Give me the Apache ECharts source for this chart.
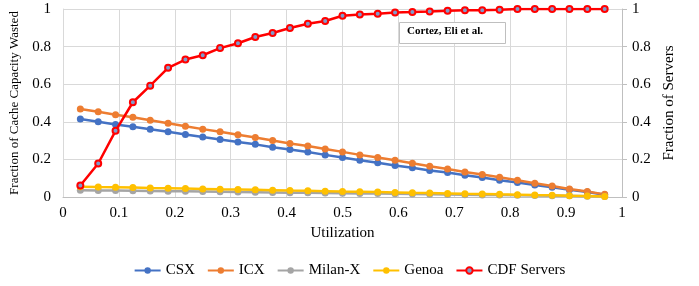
<!DOCTYPE html>
<html>
<head>
<meta charset="utf-8">
<script src="https://cdn.jsdelivr.net/npm/echarts@6/dist/echarts.min.js"></script>
<style>
  html, body { margin: 0; padding: 0; background: #fff; }
  #chart { width: 699px; height: 286px; }
</style>
</head>
<body>
<div id="chart"></div>
<script>
// utilization (bin centres)
var utilization = [0.031, 0.063, 0.094, 0.125, 0.156, 0.188, 0.219, 0.25, 0.281, 0.313,
    0.344, 0.375, 0.406, 0.438, 0.469, 0.5, 0.531, 0.563, 0.594, 0.625,
    0.656, 0.688, 0.719, 0.75, 0.781, 0.813, 0.844, 0.875, 0.906, 0.938, 0.969];

var csx = [0.415, 0.400, 0.386, 0.374, 0.360, 0.347, 0.333, 0.319, 0.306, 0.292,
    0.280, 0.265, 0.253, 0.239, 0.224, 0.210, 0.196, 0.182, 0.168, 0.155, 0.141,
    0.130, 0.116, 0.104, 0.089, 0.077, 0.064, 0.052, 0.039, 0.027, 0.012];
var icx = [0.468, 0.454, 0.438, 0.424, 0.408, 0.392, 0.376, 0.361, 0.347, 0.331,
    0.317, 0.301, 0.285, 0.271, 0.255, 0.240, 0.224, 0.210, 0.196, 0.180, 0.164,
    0.149, 0.133, 0.120, 0.105, 0.089, 0.073, 0.059, 0.043, 0.029, 0.014];
var milanX = [0.036, 0.035, 0.034, 0.033, 0.032, 0.031, 0.030, 0.029, 0.028, 0.026,
    0.025, 0.024, 0.023, 0.022, 0.021, 0.020, 0.019, 0.018, 0.017, 0.016, 0.015,
    0.013, 0.012, 0.011, 0.010, 0.009, 0.008, 0.007, 0.006, 0.004, 0.002];
var genoa = [0.055, 0.053, 0.052, 0.050, 0.048, 0.047, 0.045, 0.043, 0.041, 0.040,
    0.038, 0.036, 0.034, 0.033, 0.031, 0.029, 0.028, 0.026, 0.024, 0.022, 0.021,
    0.019, 0.017, 0.016, 0.014, 0.012, 0.010, 0.009, 0.007, 0.005, 0.003];
var cdfServers = [0.061, 0.178, 0.352, 0.504, 0.592, 0.687, 0.731, 0.754, 0.792, 0.818,
    0.851, 0.872, 0.899, 0.922, 0.936, 0.964, 0.971, 0.975, 0.982, 0.984, 0.987,
    0.991, 0.993, 0.993, 0.996, 1, 1, 1, 1, 1, 1];

var names = ['CSX', 'ICX', 'Milan-X', 'Genoa', 'CDF Servers'];
var colors = ['#4472C4', '#ED7D31', '#A5A5A5', '#FFC000', '#FF0000'];

function pairs(ys) {
    return utilization.map(function (x, i) { return [x, ys[i]]; });
}

var font = '"Liberation Serif", "Times New Roman", serif';

var myChart = echarts.init(document.getElementById('chart'), null, { renderer: 'canvas' });

function lineSeries(idx, ys) {
    return {
        name: names[idx],
        type: 'line',
        data: pairs(ys),
        symbol: 'circle',
        symbolSize: 7,
        lineStyle: { color: colors[idx], width: 2.5 },
        itemStyle: { color: colors[idx] },
        animation: false
    };
}

var cdf = lineSeries(4, cdfServers);
cdf.yAxisIndex = 1;
cdf.symbolSize = 6;
cdf.itemStyle = { color: '#7F9BCB', borderColor: '#FF0000', borderWidth: 2 };
cdf.z = 5;

var option = {
    animation: false,
    textStyle: { fontFamily: font },
    grid: { left: 63, right: 77, top: 9, bottom: 89, containLabel: false },
    xAxis: {
        type: 'value',
        min: 0, max: 1, interval: 0.1,
        name: 'Utilization',
        nameLocation: 'middle',
        nameGap: 27,
        nameTextStyle: { fontFamily: font, fontSize: 15, color: '#000' },
        axisLine: { show: true, lineStyle: { color: '#BFBFBF' } },
        axisTick: { show: false },
        axisLabel: { fontFamily: font, fontSize: 15, color: '#000', margin: 9 },
        splitLine: { show: true, lineStyle: { color: '#D9D9D9' } }
    },
    yAxis: [{
        type: 'value',
        min: 0, max: 1, interval: 0.2,
        name: 'Fraction of Cache Capacity Wasted',
        nameLocation: 'middle',
        nameGap: 42,
        nameTextStyle: { fontFamily: font, fontSize: 13, color: '#000' },
        axisLine: { show: true, lineStyle: { color: '#D9D9D9' } },
        axisTick: { show: false },
        axisLabel: { fontFamily: font, fontSize: 15, color: '#000', margin: 12 },
        splitLine: { show: true, lineStyle: { color: '#D9D9D9' } }
    }, {
        type: 'value',
        min: 0, max: 1, interval: 0.2,
        position: 'right',
        name: 'Fraction of Servers',
        nameLocation: 'middle',
        nameGap: 38,
        nameRotate: 90,
        nameTextStyle: { fontFamily: font, fontSize: 15, color: '#000' },
        axisLine: { show: true, lineStyle: { color: '#BFBFBF' } },
        axisTick: { show: true, length: 5, lineStyle: { color: '#BFBFBF' } },
        axisLabel: { fontFamily: font, fontSize: 15, color: '#000', margin: 10 },
        splitLine: { show: false }
    }],
    legend: {
        bottom: 3,
        left: 'center',
        data: names,
        itemWidth: 26,
        itemHeight: 8,
        itemGap: 12,
        textStyle: { fontFamily: font, fontSize: 15, color: '#000' }
    },
    graphic: [{
        type: 'rect',
        left: 399, top: 22,
        shape: { width: 106, height: 21 },
        style: { fill: '#fff', stroke: '#BFBFBF', lineWidth: 1 },
        z: 10
    }, {
        type: 'text',
        left: 407, top: 26,
        style: { text: 'Cortez, Eli et al.', fill: '#000', font: 'bold 11px ' + font },
        z: 11
    }],
    series: [
        lineSeries(0, csx),
        lineSeries(1, icx),
        lineSeries(2, milanX),
        lineSeries(3, genoa),
        cdf
    ]
};

myChart.setOption(option);
</script>
</body>
</html>
